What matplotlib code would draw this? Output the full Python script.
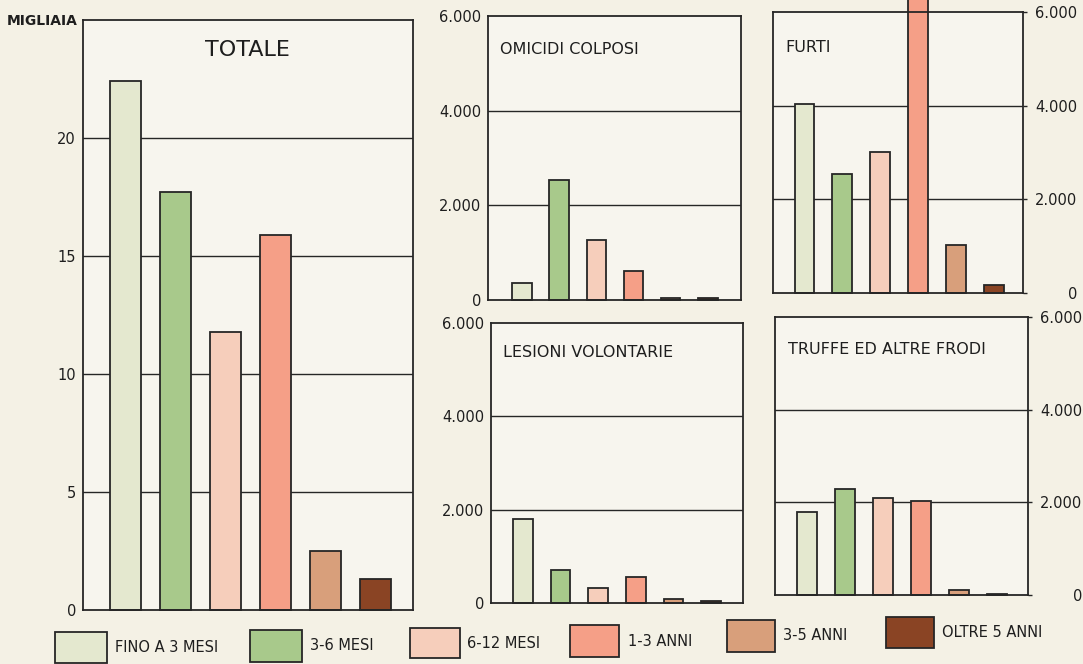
import matplotlib
matplotlib.use("Agg")
import matplotlib.pyplot as plt
from matplotlib.patches import Rectangle
from matplotlib.ticker import FixedLocator

# Durata della pena: classi
classi = ["FINO A 3 MESI", "3-6 MESI", "6-12 MESI", "1-3 ANNI", "3-5 ANNI", "OLTRE 5 ANNI"]
colori = ["#e4e8cf", "#a8c98b", "#f6cebb", "#f59f87", "#d89f7b", "#8a4424"]

# Condannati per classe di durata (totale in migliaia, reati in unita)
totale = [22.4, 17.7, 11.8, 15.9, 2.5, 1.3]
omicidi_colposi = [360, 2530, 1260, 610, 40, 40]
furti = [4030, 2550, 3000, 6500, 1030, 170]
lesioni_volontarie = [1790, 710, 320, 560, 80, 50]
truffe_frodi = [1800, 2280, 2100, 2030, 110, 30]

tick_totale = [0, 5, 10, 15, 20]
tick_reati = [0, 2000, 4000, 6000]
etichette_reati = ["0", "2.000", "4.000", "6.000"]

SFONDO = "#f4f1e5"
INTERNO = "#f7f5ee"
INCHIOSTRO = "#262626"

fig = plt.figure(figsize=(10.83, 6.64), dpi=100, facecolor=SFONDO)
W, H = 1083.0, 664.0


def pannello(x0, x1, ytop, ybot):
    return fig.add_axes([x0 / W, 1 - ybot / H, (x1 - x0) / W, (ybot - ytop) / H])


def disegna(ax, valori, ymax, ticks, labels, titolo, tx, ty, tsize, larghezza,
            xlim, destra=False, ha="left"):
    ax.set_facecolor(INTERNO)
    x = list(range(len(valori)))
    bars = ax.bar(x, valori, width=larghezza, color=colori, edgecolor=INCHIOSTRO,
                  linewidth=1.3, zorder=3)
    for b in bars:
        b.set_clip_on(False)
    for t in ticks[1:]:
        if t < ymax:
            ax.axhline(t, color=INCHIOSTRO, lw=1.0, zorder=1)
    ax.set_xlim(*xlim)
    ax.set_ylim(0, ymax)
    ax.set_xticks([])
    ax.yaxis.set_major_locator(FixedLocator(ticks))
    ax.set_yticklabels(labels)
    for s in ax.spines.values():
        s.set_color(INCHIOSTRO)
        s.set_linewidth(1.3)
        s.set_zorder(4)
    if destra:
        ax.yaxis.tick_right()
        ax.tick_params(axis="y", length=3, width=1.0, color=INCHIOSTRO,
                       pad=36, labelsize=10.5, labelcolor="#1e1e1e")
        for lab in ax.get_yticklabels():
            lab.set_horizontalalignment("right")
    else:
        ax.tick_params(axis="y", length=0, pad=5, labelsize=10.5,
                       labelcolor="#1e1e1e")
    fig.text(tx / W, 1 - ty / H, titolo, fontsize=tsize, color="#1e1e1e",
             ha=ha, va="center")


ax_tot = pannello(83, 413, 20, 610)
disegna(ax_tot, totale, 25, tick_totale, [str(t) for t in tick_totale],
        "TOTALE", 247, 50, 16, 0.62, (-0.85, 5.75), ha="center")
fig.text(78 / W, 1 - 21 / H, "MIGLIAIA", fontsize=10, fontweight="bold",
         color="#1e1e1e", ha="right", va="center")

ax_om = pannello(488, 741, 16, 300)
disegna(ax_om, omicidi_colposi, 6000, tick_reati, etichette_reati,
        "OMICIDI COLPOSI", 500, 50, 11.5, 0.52, (-0.91, 5.89))

ax_fu = pannello(773, 1023, 12, 293)
disegna(ax_fu, furti, 6000, tick_reati, etichette_reati,
        "FURTI", 785, 47, 11.5, 0.52, (-0.83, 5.77), destra=True)

ax_le = pannello(491, 743, 323, 603)
disegna(ax_le, lesioni_volontarie, 6000, tick_reati, etichette_reati,
        "LESIONI VOLONTARIE", 503, 353, 11.5, 0.52, (-0.85, 5.85))

ax_tr = pannello(775, 1028, 317, 595)
disegna(ax_tr, truffe_frodi, 6000, tick_reati, etichette_reati,
        "TRUFFE ED ALTRE FRODI", 788, 350, 11.5, 0.52, (-0.84, 5.82), destra=True)

# Legenda in basso: riquadri colorati con etichetta a destra
riquadri = [(55, 107, 632, 663, 115), (250, 302, 630, 662, 310),
            (410, 460, 628, 658, 467), (570, 619, 625, 657, 628),
            (727, 775, 620, 652, 783), (886, 934, 617, 648, 942)]
for (x0, x1, y0, y1, tx), nome, col in zip(riquadri, classi, colori):
    fig.patches.append(Rectangle((x0 / W, 1 - y1 / H), (x1 - x0) / W, (y1 - y0) / H,
                                 transform=fig.transFigure, facecolor=col,
                                 edgecolor=INCHIOSTRO, linewidth=1.3))
    fig.text(tx / W, 1 - ((y0 + y1) / 2) / H, nome, fontsize=10.5, color="#1e1e1e",
             ha="left", va="center")

fig.savefig("out.png", dpi=100, facecolor=SFONDO)
